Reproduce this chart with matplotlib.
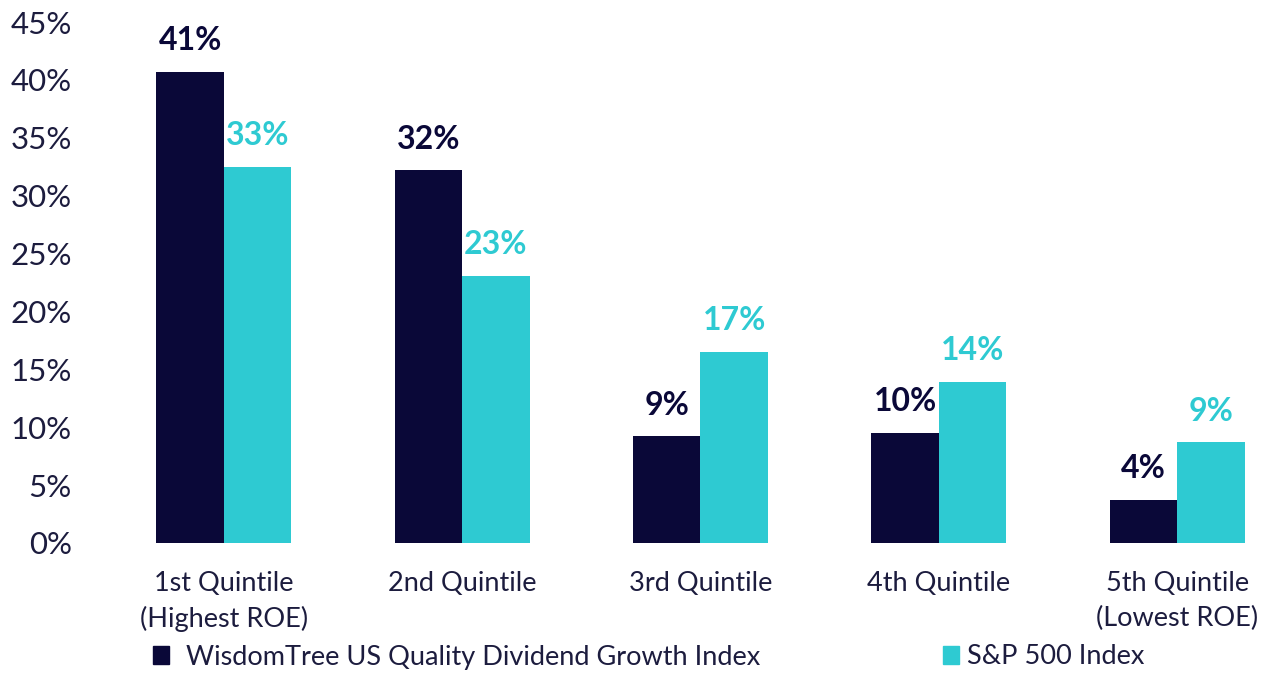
import numpy as np
import matplotlib.pyplot as plt
from matplotlib.patches import Patch

plt.rcParams['font.family'] = ['Lato', 'DejaVu Sans']

categories = ['1st Quintile\n(Highest ROE)', '2nd Quintile', '3rd Quintile',
              '4th Quintile', '5th Quintile\n(Lowest ROE)']
wisdomtree = [40.7, 32.2, 9.2, 9.5, 3.7]
sp500 = [32.5, 23.1, 16.5, 13.9, 8.7]
wt_labels = ['41%', '32%', '9%', '10%', '4%']
sp_labels = ['33%', '23%', '17%', '14%', '9%']
series_names = ['WisdomTree US Quality Dividend Growth Index', 'S&P 500 Index']

navy = '#0a0838'
teal = '#2ecad2'
text_c = '#1c1c3e'

fig = plt.figure(figsize=(12.7, 6.73), dpi=100)
ax = fig.add_axes([90 / 1270, 130 / 673, 1175 / 1270, 521 / 673])

x = np.arange(len(categories))
w = 0.283
b1 = ax.bar(x - w / 2, wisdomtree, w, color=navy)
b2 = ax.bar(x + w / 2, sp500, w, color=teal)

for bars, labs, c in [(b1, wt_labels, navy), (b2, sp_labels, teal)]:
    for rect, lab in zip(bars, labs):
        ax.annotate(lab, (rect.get_x() + rect.get_width() / 2, rect.get_height()),
                    xytext=(0, 12), textcoords='offset points', ha='center', va='bottom',
                    fontsize=23, fontweight='bold', color=c, annotation_clip=False)

ax.set_xlim(-0.562, 4.369)
ax.set_ylim(0, 45)
ax.set_yticks(np.arange(0, 46, 5))
ax.set_yticklabels([f'{v}%' for v in range(0, 46, 5)])
ax.set_xticks(x)
ax.set_xticklabels(categories, linespacing=1.5)
ax.tick_params(axis='y', length=0, pad=13, labelsize=22.5, labelcolor=text_c)
ax.tick_params(axis='x', length=0, pad=20, labelsize=19.5, labelcolor=text_c)
for s in ax.spines.values():
    s.set_visible(False)

leg_kw = dict(loc='center left', frameon=False, fontsize=19.5, handlelength=0.6,
              handleheight=0.6, borderpad=0, borderaxespad=0, labelcolor=text_c)
leg1 = fig.legend(handles=[Patch(color=navy)], labels=[series_names[0]],
                  bbox_to_anchor=(153 / 1270, 1 - 657 / 673), handletextpad=0.6, **leg_kw)
leg2 = fig.legend(handles=[Patch(color=teal)], labels=[series_names[1]],
                  bbox_to_anchor=(943 / 1270, 1 - 657 / 673), handletextpad=0.3, **leg_kw)

fig.savefig('out.png', dpi=100)
